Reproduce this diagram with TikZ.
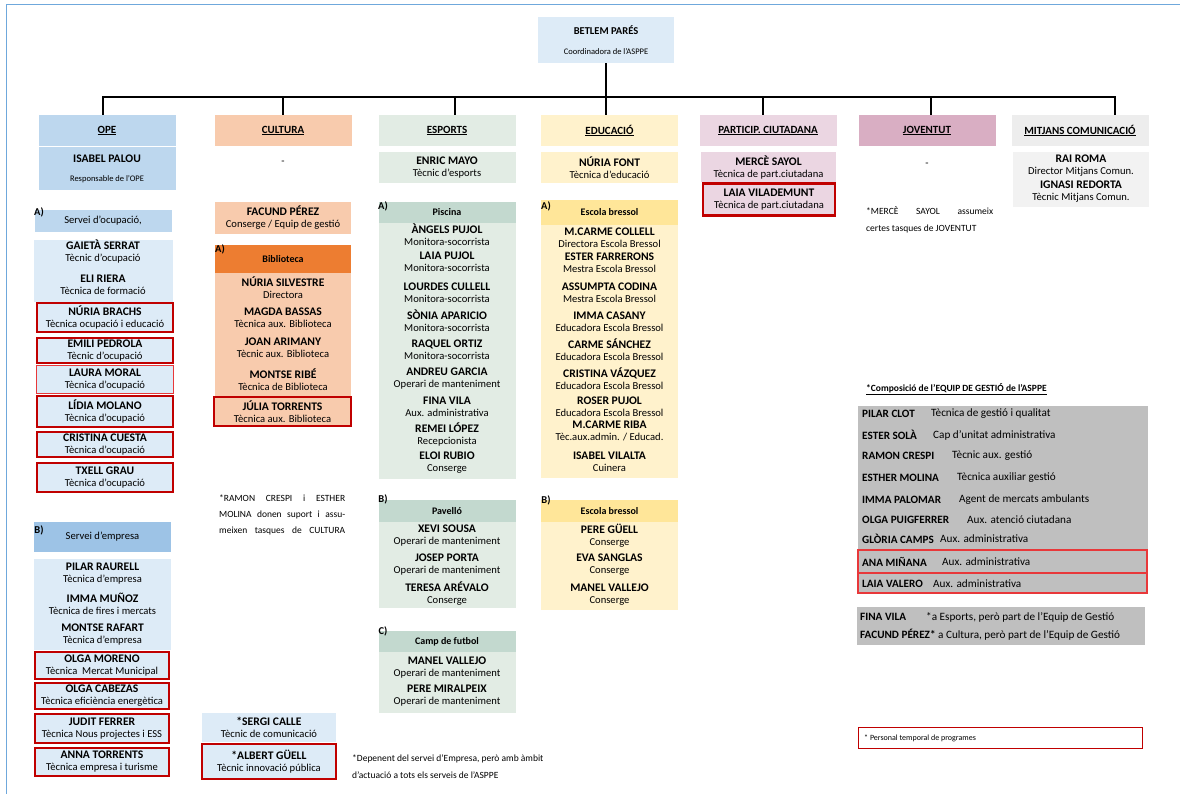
\documentclass[tikz,border=0pt]{standalone}
\usepackage{fontspec}
\setmainfont{Carlito}

\definecolor{topblue}{HTML}{DDEBF7}
\definecolor{opeblue}{HTML}{BDD7EE}
\definecolor{opelight}{HTML}{DDEBF7}
\definecolor{opedark}{HTML}{9DC3E6}
\definecolor{cultpeach}{HTML}{F8CBAD}
\definecolor{cultorange}{HTML}{ED7D31}
\definecolor{espgreen}{HTML}{E2ECE4}
\definecolor{espdark}{HTML}{C3D9CF}
\definecolor{eduyellow}{HTML}{FFF2CC}
\definecolor{edudark}{HTML}{FFE699}
\definecolor{partpink}{HTML}{EBD6E2}
\definecolor{jovpink}{HTML}{D9AEC3}
\definecolor{mitgray}{HTML}{EDEDED}
\definecolor{mitlight}{HTML}{F2F2F2}
\definecolor{eqgray}{HTML}{BFBFBF}
\definecolor{boxred}{HTML}{C00000}
\definecolor{lightred}{HTML}{E8383A}
\definecolor{frameblue}{HTML}{6FA8DC}

\newcommand{\hdrfont}{\fontsize{11}{12}\selectfont\bfseries}
\newcommand{\rolefont}{\fontsize{10.6}{12}\selectfont}
\newcommand{\notefont}{\fontsize{9.5}{16}\selectfont}
\newcommand{\who}[1]{{\fontsize{11.6}{12}\selectfont\bfseries #1}}

\tikzset{
  box/.style={fill=#1, inner sep=0pt, minimum width=137pt, align=center, font=\rolefont},
  hdr/.style={box=#1, minimum height=31pt, font=\hdrfont},
  subhdr/.style={box=#1, font=\fontsize{10}{12}\selectfont\bfseries},
  band/.style={fill=#1, inner sep=0pt, minimum width=137pt},
  pers/.style={align=center, inner sep=0pt, font=\rolefont},
  redbox/.style={draw=boxred, line width=2.2pt, fill=#1, inner sep=0pt, align=center, font=\rolefont},
  tag/.style={font=\fontsize{10.5}{12}\selectfont\bfseries, inner sep=0pt},
  note/.style={font=\notefont, inner sep=0pt, align=left, anchor=north west},
  wire/.style={line width=1.3pt},
  eqrow/.style={font=\fontsize{11.2}{12}\selectfont, inner sep=0pt, anchor=west},
}

\begin{document}
\begin{tikzpicture}[x=1pt,y=-1pt]
\useasboundingbox (0,0) rectangle (1180,794);
\draw[frameblue, line width=1pt] (6,794) -- (6,5) -- (1180,5);

\node[box=topblue, minimum width=136pt, minimum height=46pt] (betlem) at (606,40)
  {{\fontsize{10.5}{12}\selectfont\bfseries BETLEM PARÉS}\\[8pt]{\fontsize{8.5}{10}\selectfont Coordinadora de l'ASPPE}};

\foreach \n/\col/\xx/\txt in {ope/opeblue/107/OPE, cult/cultpeach/283/CULTURA, esp/espgreen/447/ESPORTS, edu/eduyellow/609.5/EDUCACIÓ, part/partpink/768/PARTICIP. CIUTADANA, jov/jovpink/927/JOVENTUT, mitj/mitgray/1080/MITJANS COMUNICACIÓ}
  \node[hdr=\col] (\n) at (\xx,130.5) {\underline{\txt}};

\coordinate (bus) at (0,97);
\coordinate (mitjTop) at ([xshift=35pt]mitj.north);
\draw[wire] (betlem.south) -- (betlem.south |- edu.north);
\draw[wire] ([xshift=-4pt]ope.north) |- (bus -| mitjTop) -- (mitjTop);
\foreach \n/\dx in {cult/0, esp/8, part/-5, jov/4}
  \draw[wire] ([xshift=\dx pt]\n.north) -- ([xshift=\dx pt]\n.north |- bus);

% OPE
\node[box=opeblue, minimum height=43pt] (palou) at (107,168.5)
  {\who{ISABEL PALOU}\\[7pt]{\fontsize{8.5}{10}\selectfont Responsable de l'OPE}};
\node[box=opeblue, minimum height=22pt] (ocup) at (103,221) {Servei d'ocupació,};
\node[tag] (tagOcup) at (39,212) {A)};
\node[band=opelight, minimum width=139pt, minimum height=62pt] (ocupBg) at (103.5,271) {};
\foreach \nm/\rl/\yy [count=\i] in {GAIETÀ SERRAT/Tècnic d'ocupació/251, ELI RIERA/Tècnica de formació/285}
  \node[pers] (ocupA\i) at (103,\yy) {\who{\nm}\\\rl};
\foreach \nm/\rl/\yy/\hh [count=\i] in {NÚRIA BRACHS/Tècnica ocupació i educació/317.5/29, EMILI PEDROLA/Tècnic d'ocupació/350.5/25, LÍDIA MOLANO/Tècnica d'ocupació/411.5/31, CRISTINA CUESTA/Tècnica d'ocupació/444.5/25, TXELL GRAU/Tècnica d'ocupació/477.5/29}
  \node[redbox=opelight, minimum width=136pt, minimum height=\hh pt] (ocupR\i) at (105,\yy) {\who{\nm}\\\rl};
\node[redbox=opelight, draw=lightred, line width=1pt, minimum width=137pt, minimum height=28pt] (moral) at (105,379.5)
  {\who{LAURA MORAL}\\Tècnica d'ocupació};

\node[box=opedark, minimum height=30pt] (empr) at (102.5,537) {Servei d'empresa};
\node[tag] (tagEmpr) at (39,530) {B)};
\node[band=opelight, minimum height=91pt] (emprBg) at (102.5,604.5) {};
\foreach \nm/\rl/\yy [count=\i] in {PILAR RAURELL/Tècnica d'empresa/573.5, IMMA MUÑOZ/Tècnica de fires i mercats/603.5, MONTSE RAFART/Tècnica d'empresa/635}
  \node[pers] (emprA\i) at (102.5,\yy) {\who{\nm}\\\rl};
\foreach \nm/\rl/\yy/\hh [count=\i] in {OLGA MORENO/Tècnica\ \ Mercat Municipal/665.5/27, OLGA CABEZAS/Tècnica eficiència energètica/696/26, JUDIT FERRER/Tècnica Nous projectes i ESS/728.5/29, ANNA TORRENTS/Tècnica empresa i turisme/762/28}
  \node[redbox=opelight, minimum width=134pt, minimum height=\hh pt] (emprR\i) at (102,\yy) {\who{\nm}\\\rl};

% CULTURA
\node[pers] (cultDash) at (283,163) {-};
\node[box=cultpeach, minimum width=136pt, minimum height=32pt] (facund) at (283,218) {\who{FACUND PÉREZ}\\Conserge / Equip de gestió};
\node[subhdr=cultorange, minimum width=136pt, minimum height=28pt] (biblio) at (283,259) {Biblioteca};
\node[tag] (tagBib) at (220,249) {A)};
\node[band=cultpeach, minimum width=136pt, minimum height=123pt] (bibBg) at (283,334.5) {};
\foreach \nm/\rl/\yy [count=\i] in {NÚRIA SILVESTRE/Directora/288, MAGDA BASSAS/Tècnica aux. Biblioteca/317.5, JOAN ARIMANY/Tècnic aux. Biblioteca/348, MONTSE RIBÉ/Tècnica de Biblioteca/379.5}
  \node[pers] (bib\i) at (283,\yy) {\who{\nm}\\\rl};
\node[redbox=cultpeach, minimum width=137pt, minimum height=29pt] (torrents) at (282.5,411.5) {\who{JÚLIA TORRENTS}\\Tècnica aux. Biblioteca};
\node[note] (cultNote) at (219,495) {\makebox[126pt][s]{*RAMON CRESPI i ESTHER}\\\makebox[126pt][s]{MOLINA donen suport i assu-}\\\makebox[126pt][s]{meixen tasques de CULTURA}};
\node[box=opelight, minimum width=134pt, minimum height=29pt] (calle) at (269,727.5) {\who{*SERGI CALLE}\\Tècnic de comunicació};
\node[redbox=opelight, minimum width=134pt, minimum height=35pt] (guell) at (269,761.5) {\who{*ALBERT GÜELL}\\Tècnic innovació pública};
\node[note, font=\fontsize{9.5}{17}\selectfont] (emprNote) at (352,755) {*Depenent del servei d'Empresa, però amb àmbit\\d'actuació a tots els serveis de l'ASPPE};

% ESPORTS
\node[box=espgreen, minimum height=31pt] (mayo) at (447,167.5) {\who{ENRIC MAYO}\\Tècnic d'esports};
\node[subhdr=espdark, minimum height=21pt] (pisc) at (447,212.5) {Piscina};
\node[tag] (tagPisc) at (383,206) {A)};
\node[band=espgreen, minimum height=256pt] (piscBg) at (447,351) {};
\foreach \nm/\rl/\yy [count=\i] in {ÀNGELS PUJOL/Monitora-socorrista/235, LAIA PUJOL/Monitora-socorrista/262, LOURDES CULLELL/Monitora-socorrista/292.5, SÒNIA APARICIO/Monitora-socorrista/321, RAQUEL ORTIZ/Monitora-socorrista/349.5, ANDREU GARCIA/Operari de manteniment/378.5, FINA VILA/Aux. administrativa/406.5, REMEI LÓPEZ/Recepcionista/434.5, ELOI RUBIO/Conserge/463}
  \node[pers] (pisc\i) at (447,\yy) {\who{\nm}\\\rl};
\node[subhdr=espdark, minimum height=22pt] (pav) at (447,511) {Pavelló};
\node[tag] (tagPav) at (383,499) {B)};
\node[band=espgreen, minimum height=86pt] (pavBg) at (447,565) {};
\foreach \nm/\rl/\yy [count=\i] in {XEVI SOUSA/Operari de manteniment/535.5, JOSEP PORTA/Operari de manteniment/565, TERESA ARÉVALO/Conserge/594}
  \node[pers] (pav\i) at (447,\yy) {\who{\nm}\\\rl};
\node[subhdr=espdark, minimum height=21pt] (camp) at (447,641.5) {Camp de futbol};
\node[tag] (tagCamp) at (383,631) {C)};
\node[band=espgreen, minimum height=61pt] (campBg) at (447,682.5) {};
\foreach \nm/\rl/\yy [count=\i] in {MANEL VALLEJO/Operari de manteniment/668, PERE MIRALPEIX/Operari de manteniment/696}
  \node[pers] (camp\i) at (447,\yy) {\who{\nm}\\\rl};

% EDUCACIO
\node[box=eduyellow, minimum height=31pt] (font) at (609.5,167.5) {\who{NÚRIA FONT}\\Tècnica d'educació};
\node[subhdr=edudark, minimum height=25pt] (bresA) at (609.5,212.5) {Escola bressol};
\node[tag] (tagBresA) at (546,206) {A)};
\node[band=eduyellow, minimum height=253pt] (bresABg) at (609.5,351.5) {};
\foreach \nm/\rl/\yy [count=\i] in {M.CARME COLLELL/Directora Escola Bressol/237.5, ESTER FARRERONS/Mestra Escola Bressol/263, ASSUMPTA CODINA/Mestra Escola Bressol/293, IMMA CASANY/Educadora Escola Bressol/321.5, CARME SÁNCHEZ/Educadora Escola Bressol/349.5, CRISTINA VÁZQUEZ/Educadora Escola Bressol/378.5, ROSER PUJOL/Educadora Escola Bressol/406.5, M.CARME RIBA/Tèc.aux.admin. \slash{} Educad./431, ISABEL VILALTA/Cuinera/461.5}
  \node[pers] (bresA\i) at (609.5,\yy) {\who{\nm}\\\rl};
\node[subhdr=edudark, minimum height=22pt] (bresB) at (609.5,511) {Escola bressol};
\node[tag] (tagBresB) at (546,500) {B)};
\node[band=eduyellow, minimum height=88pt] (bresBBg) at (609.5,566) {};
\foreach \nm/\rl/\yy [count=\i] in {PERE GÜELL/Conserge/535.5, EVA SANGLAS/Conserge/565, MANEL VALLEJO/Conserge/594.5}
  \node[pers] (bresB\i) at (609.5,\yy) {\who{\nm}\\\rl};

% PARTICIPACIO, JOVENTUT, MITJANS
\node[box=partpink, minimum width=135pt, minimum height=30pt] (sayol) at (768.5,167.5) {\who{MERCÈ SAYOL}\\Tècnica de part.ciutadana};
\node[redbox=partpink, minimum width=132pt, minimum height=32pt] (vilad) at (769,199.5) {\who{LAIA VILADEMUNT}\\Tècnica de part.ciutadana};
\node[pers] (jovDash) at (927,165) {-};
\node[note, font=\fontsize{9.5}{17}\selectfont] (jovNote) at (866,206) {\makebox[127pt][s]{*MERCÈ SAYOL assumeix}\\certes tasques de JOVENTUT};
\node[box=mitlight, minimum width=136pt, minimum height=55pt] (mitjBg) at (1081,179.5) {};
\foreach \nm/\rl/\yy [count=\i] in {RAI ROMA/Director Mitjans Comun./165.5, IGNASI REDORTA/Tècnic Mitjans Comun./191.5}
  \node[pers] (mitj\i) at (1081,\yy) {\who{\nm}\\\rl};

% EQUIP DE GESTIO
\node[anchor=west, inner sep=0pt, font=\fontsize{9.5}{11}\selectfont\bfseries] (eqTitle) at (866,389) {\underline{*Composició de l'EQUIP DE GESTIÓ de l'ASPPE}};
\node[band=eqgray, minimum width=290pt, minimum height=188pt] (eqBg) at (1003,500) {};
\foreach \nm/\rl/\rx/\yy [count=\i] in {PILAR CLOT/Tècnica de gestió i qualitat/931/414, ESTER SOLÀ/Cap d'unitat administrativa/933/435, RAMON CRESPI/Tècnic aux. gestió/952/456, ESTHER MOLINA/Tècnica auxiliar gestió/957/478, IMMA PALOMAR/Agent de mercats ambulants/959/500, OLGA PUIGFERRER/Aux. atenció ciutadana/967/520, GLÒRIA CAMPS/Aux. administrativa/940/539, ANA MIÑANA/Aux. administrativa/942/562, LAIA VALERO/Aux. administrativa/933/584}{
  \node[eqrow, font=\fontsize{11.2}{12}\selectfont\bfseries] (eqName\i) at (862,\yy) {\nm};
  \node[eqrow] (eqRole\i) at (\rx,\yy) {\rl};
}
\node[draw=lightred, line width=1.3pt, minimum width=289pt, minimum height=23pt, inner sep=0pt] (eqRed1) at (1002.5,561.5) {};
\node[draw=lightred, line width=1.3pt, minimum width=289pt, minimum height=20pt, inner sep=0pt] (eqRed2) at (1002.5,583) {};
\node[band=eqgray, minimum width=288pt, minimum height=38pt] (eqExtra) at (1001,626) {};
\node[eqrow, font=\fontsize{11.2}{12}\selectfont\bfseries] (eqFina) at (860,617) {FINA VILA};
\node[eqrow] (eqFinaR) at (926,617) {*a Esports, però part de l'Equip de Gestió};
\node[eqrow] (eqFacund) at (860,635) {\textbf{FACUND PÉREZ*} a Cultura, però part de l'Equip de Gestió};
\node[draw=boxred, line width=1.5pt, minimum width=284pt, minimum height=21pt, inner sep=0pt] (tempBox) at (1000.5,738) {};
\node[anchor=west, inner sep=0pt, font=\fontsize{8}{10}\selectfont] (tempTxt) at (864,738) {* Personal temporal de programes};
\end{tikzpicture}
\end{document}
